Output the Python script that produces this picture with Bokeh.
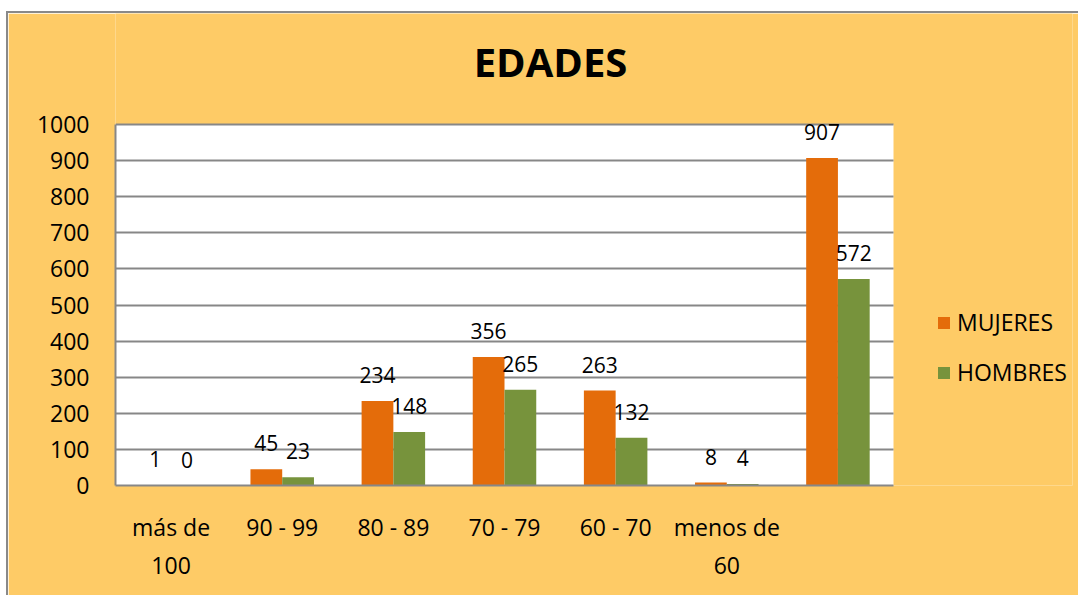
from bokeh.plotting import figure
from bokeh.models import (ColumnDataSource, Range1d, LabelSet, Label, Legend, LegendItem,
                          FixedTicker, BoxAnnotation)
from bokeh.core.properties import value
from bokeh.transform import dodge
from bokeh.embed import file_html
from bokeh.resources import INLINE

categories = ["más de 100", "90 - 99", "80 - 89", "70 - 79", "60 - 70", "menos de 60", "TOTAL"]
tick_labels = ["más de\n100", "90 - 99", "80 - 89", "70 - 79", "60 - 70", "menos de\n60", ""]
mujeres = [1, 45, 234, 356, 263, 8, 907]
hombres = [0, 23, 148, 265, 132, 4, 572]
series_names = ["MUJERES", "HOMBRES"]
y_ticks = list(range(0, 1001, 100))
title_text = "EDADES"

BG = "#FECB66"
ORANGE = "#E46C0A"
GREEN = "#77933C"
GRID = "#878787"
FONT = "Open Sans"

# layout (pixels, canvas-relative)
W, H = 1072, 584
ML, MR, MT, MB = 107, 8, 0, 112
FRAME_W, FRAME_H = W - ML - MR, H - MT - MB
PLOT_W, PLOT_H = 778, 361          # white plotting area inside the frame
Y_MAX = y_ticks[-1]

n = len(categories)
x_end = n * FRAME_W / PLOT_W
y_end = Y_MAX * FRAME_H / PLOT_H

xpos = [i + 0.5 for i in range(n)]
src = ColumnDataSource(dict(x=xpos, m=mujeres, h=hombres,
                            ml=[str(v) for v in mujeres], hl=[str(v) for v in hombres]))

p = figure(width=W, height=H, x_range=Range1d(0, x_end), y_range=Range1d(0, y_end),
           output_backend="svg", toolbar_location=None, title=None,
           min_border_left=ML, min_border_right=MR, min_border_top=MT, min_border_bottom=MB)

p.background_fill_color = BG
p.border_fill_color = BG
p.outline_line_color = None
p.styles = {"border-left": "2px solid #898989", "border-top": "2px solid #898989",
            "margin-left": "6px", "margin-top": "11px"}

# white plotting area
p.add_layout(BoxAnnotation(left=0, right=n, bottom=0, top=Y_MAX, fill_color="white",
                           fill_alpha=1, line_color=None, level="image"))

# horizontal grid lines limited to the plotting area
grid = p.ygrid[0]
grid.ticker = FixedTicker(ticks=y_ticks)
if "cross_bounds" in grid.properties():
    grid.cross_bounds = (0, n)
    grid.grid_line_color = GRID
    grid.grid_line_width = 2
else:
    grid.grid_line_color = None
    p.segment(x0=[0] * len(y_ticks), x1=[n] * len(y_ticks), y0=y_ticks, y1=y_ticks,
              line_color=GRID, line_width=2, level="underlay")
p.xgrid.grid_line_color = None

bw = 0.2857
r1 = p.vbar(x=dodge("x", -bw / 2), top="m", width=bw, source=src,
            fill_color=ORANGE, line_color=None)
r2 = p.vbar(x=dodge("x", bw / 2), top="h", width=bw, source=src,
            fill_color=GREEN, line_color=None)

for col, lab, off in (("m", "ml", -bw / 2), ("h", "hl", bw / 2)):
    p.add_layout(LabelSet(x=dodge("x", off), y=col, text=lab, source=src,
                          y_offset=18, text_align="center", text_baseline="alphabetic",
                          text_font=value(FONT), text_font_size="21px", text_color="black"))

# Title (centre x=550, baseline near y=61 in page pixels; frame left 115, bottom 485)
cat_px = PLOT_W / n
p.add_layout(Label(x=(550 - 115) / cat_px, y=(485 - 61) * Y_MAX / PLOT_H, text=title_text,
                   text_align="center", text_baseline="alphabetic", text_font=FONT,
                   text_font_size="40px", text_font_style="bold", text_color="black"))

# Axes
p.xaxis.ticker = FixedTicker(ticks=xpos)
p.xaxis.major_label_overrides = {x: t for x, t in zip(xpos, tick_labels)}
p.xaxis.bounds = (0, n)
p.yaxis.ticker = FixedTicker(ticks=y_ticks)
p.yaxis.bounds = (0, Y_MAX)
for ax in (p.xaxis[0], p.yaxis[0]):
    ax.axis_line_color = GRID
    ax.axis_line_width = 2
    ax.major_tick_line_color = None
    ax.minor_tick_line_color = None
    ax.major_tick_out = 0
    ax.major_tick_in = 0
    ax.minor_tick_out = 0
    ax.major_label_text_font = FONT
    ax.major_label_text_font_size = "23px"
    ax.major_label_text_color = "black"
p.yaxis.major_label_standoff = 26
p.xaxis.major_label_standoff = 25

legend = Legend(items=[LegendItem(label=series_names[0], renderers=[r1]),
                       LegendItem(label=series_names[1], renderers=[r2])],
                location=(821, 97), orientation="vertical",
                glyph_width=15, glyph_height=15, label_height=30, spacing=18,
                label_standoff=6, padding=0, margin=0,
                border_line_color=None, background_fill_alpha=0,
                label_text_font=FONT, label_text_font_size="23px", label_text_color="black")
p.add_layout(legend, "center")

open("out.html", "w").write(file_html(p, INLINE))
